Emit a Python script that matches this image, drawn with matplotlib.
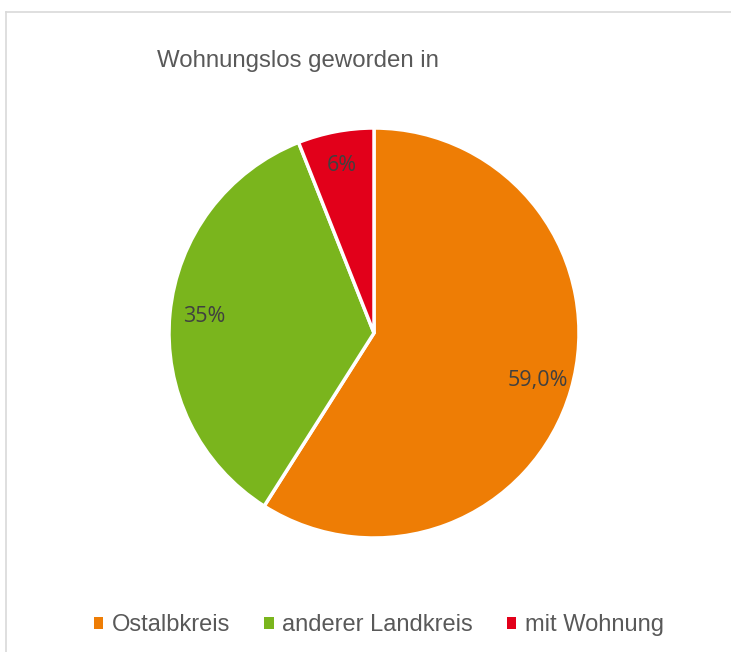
import matplotlib.pyplot as plt
from matplotlib.lines import Line2D
from matplotlib.patches import Patch

categories = ['Ostalbkreis', 'anderer Landkreis', 'mit Wohnung']
values = [59.0, 35.0, 6.0]
pct_labels = ['59,0%', '35%', '6%']
colors = ['#EE7D05', '#7AB51D', '#E2001A']

W, H = 731, 652
fig = plt.figure(figsize=(W / 100, H / 100), dpi=100)
fig.patch.set_facecolor('white')

# pie axes: center (374, 333) px, radius ~205 px
cx, cy, r = 374, 333, 205
ax = fig.add_axes([(cx - r) / W, (H - cy - r) / H, 2 * r / W, 2 * r / H])

lbl = iter(pct_labels)
wedges, texts, autotexts = ax.pie(
    values, colors=colors, startangle=90, counterclock=False,
    autopct=lambda p: next(lbl), pctdistance=0.83,
    wedgeprops=dict(edgecolor='white', linewidth=2.5),
    textprops=dict(color='#404040', fontsize=15.5, family='Open Sans'))
ax.set_xlim(-1, 1)
ax.set_ylim(-1, 1)
ax.set_aspect('auto')
ax.axis('off')

fig.text(157 / W, 1 - 61 / H, 'Wohnungslos geworden in', fontsize=17.3,
         family='Liberation Sans', color='#595959', va='center', ha='left')

handles = [Patch(facecolor=c, edgecolor='none') for c in colors]
fig.legend(handles, categories, loc='center', bbox_to_anchor=(0.518, 1 - 625 / H),
           ncol=3, frameon=False, handlelength=0.4, handleheight=0.4,
           handletextpad=0.35, columnspacing=1.45,
           prop=dict(family='Liberation Sans', size=17), labelcolor='#595959')

# light frame (top and left edges visible)
fig.add_artist(Line2D([6 / W, 1], [1 - 12 / H, 1 - 12 / H], color='#D9D9D9', lw=1.2))
fig.add_artist(Line2D([6 / W, 6 / W], [0, 1 - 12 / H], color='#D9D9D9', lw=1.2))

fig.savefig('out.png', dpi=100)
